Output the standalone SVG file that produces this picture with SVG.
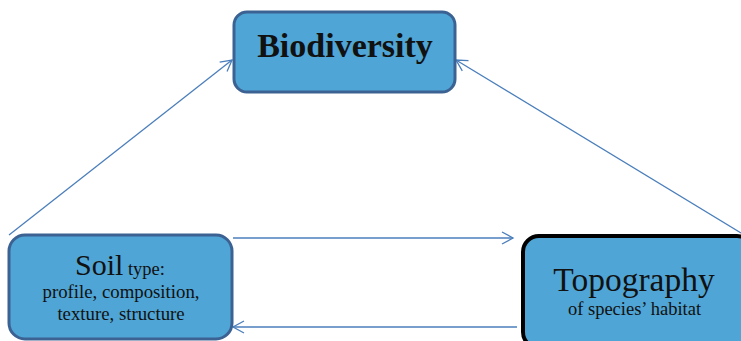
<svg xmlns="http://www.w3.org/2000/svg" width="741" height="341" viewBox="0 0 741 341">
<defs>
<marker id="arr" markerUnits="userSpaceOnUse" markerWidth="14" markerHeight="14" viewBox="0 0 14 14" refX="12" refY="7" orient="auto">
<path d="M1,1 L12,7 L1,13" fill="none" stroke="#4a7ebb" stroke-width="1.3"/>
</marker>
<style>
.box{fill:#4fa5d5;stroke:#3b6292;stroke-width:3}
.boxk{fill:#4fa5d5;stroke:#000;stroke-width:4}
.t{font-family:"Liberation Serif","Times New Roman",serif;fill:#111;text-anchor:middle}
.c{stroke:#4a7ebb;stroke-width:1.3;fill:none;marker-end:url(#arr)}
</style>
</defs>
<rect width="741" height="341" fill="#fff"/>
<g id="connectors">
<line class="c" x1="9" y1="235" x2="232" y2="60"/>
<line class="c" x1="741" y1="233" x2="456" y2="60"/>
<line class="c" x1="233" y1="238" x2="513" y2="238"/>
<line class="c" x1="517" y1="327" x2="233" y2="327"/>
</g>
<g id="biodiversity">
<rect class="box" x="234" y="12" width="221" height="80" rx="13"/>
<text class="t" x="345" y="57" font-size="34" font-weight="bold">Biodiversity</text>
</g>
<g id="soil">
<rect class="box" x="9" y="235" width="223" height="104" rx="16"/>
<text class="t" x="120" y="275"><tspan font-size="30">Soil</tspan><tspan font-size="18.5"> type:</tspan></text>
<text class="t" x="121" y="298" font-size="18.8">profile, composition,</text>
<text class="t" x="121" y="320" font-size="18.8">texture, structure</text>
</g>
<g id="topography">
<rect class="boxk" x="523" y="236" width="230" height="112" rx="16"/>
<text class="t" x="634" y="291" font-size="33.5">Topography</text>
<text class="t" x="634.5" y="315" font-size="18.5">of species’ habitat</text>
</g>
</svg>
